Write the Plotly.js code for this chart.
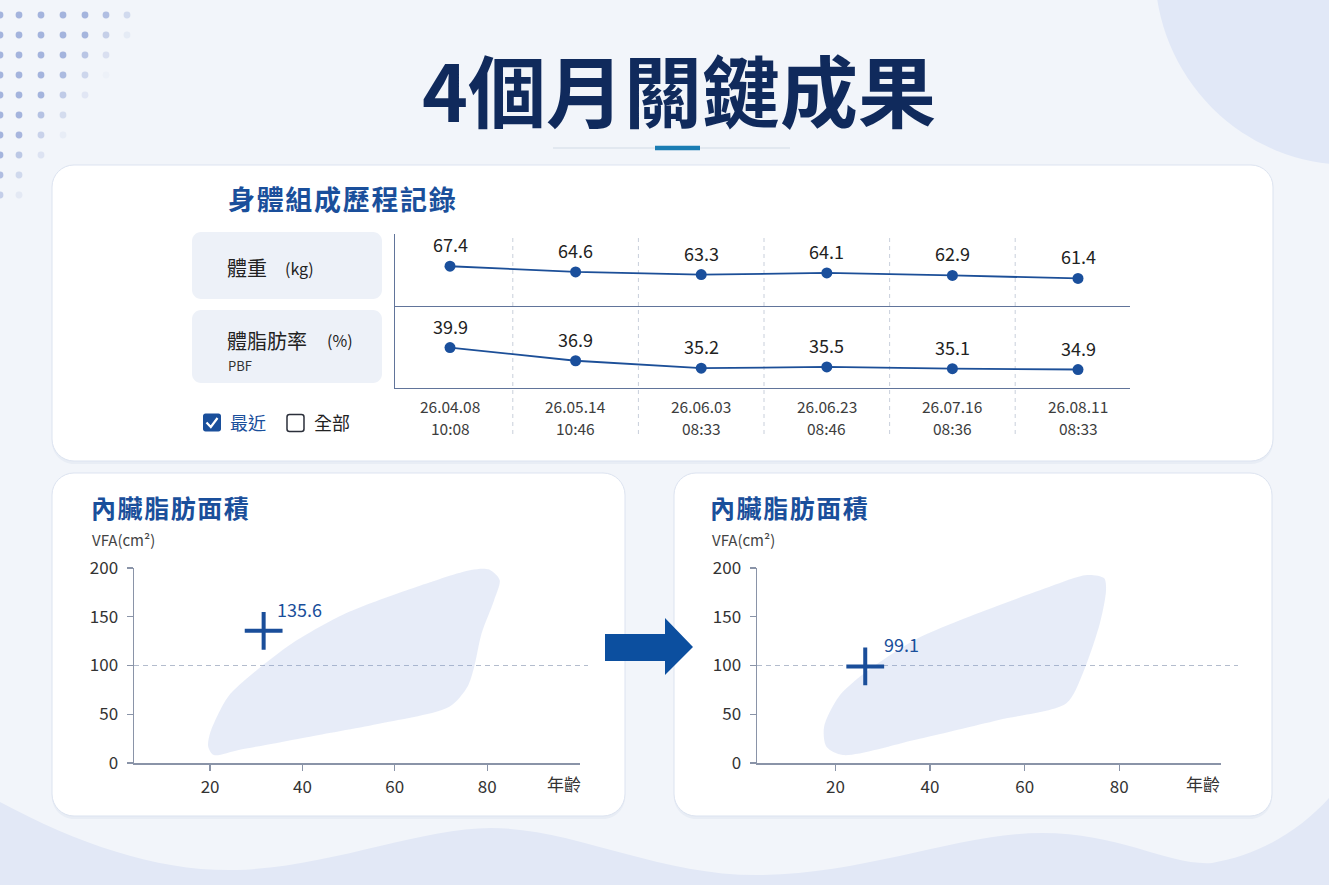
<!DOCTYPE html>
<html>
<head>
<meta charset="utf-8">
<script src="https://cdn.plot.ly/plotly-3.0.1.min.js"></script>
<style>
  html, body { margin: 0; padding: 0; background: #f2f5fa; }
  #chart { width: 1329px; height: 885px; }
</style>
</head>
<body>
<div id="chart"></div>
<script>
// ---------------- DATA ----------------
const sessionDates = ['26.04.08', '26.05.14', '26.06.03', '26.06.23', '26.07.16', '26.08.11'];
const sessionTimes = ['10:08', '10:46', '08:33', '08:46', '08:36', '08:33'];
const weightKg = [67.4, 64.6, 63.3, 64.1, 62.9, 61.4];
const pbfPct = [39.9, 36.9, 35.2, 35.5, 35.1, 34.9];

const vfaAgeTicks = [20, 40, 60, 80];
const vfaTicks = [0, 50, 100, 150, 200];
const vfaCutoff = [100];

const vfaBeforeAge = [31.6];
const vfaBeforeValue = [135.6];
const vfaAfterAge = [26.3];
const vfaAfterValue = [99.1];

// reference (normal-range) region outlines
const normalAgeBefore = [19.6, 20.0, 23.9, 29.3, 37.8, 49.4, 64.8, 76.5, 80.3, 82.7, 81.5, 78.8, 77.2, 75.7, 71.8, 57.1, 41.6, 26.2, 20.8, 19.6];
const normalVfaBefore = [16.7, 30.5, 68.0, 92.0, 122.8, 153.5, 180.8, 198.0, 198.6, 187.7, 167.0, 133.0, 98.8, 78.0, 57.7, 40.7, 27.0, 13.3, 8.2, 16.7];
const normalAgeAfter = [18.1, 17.6, 20.7, 26.1, 36.7, 50.1, 63.4, 73.2, 76.8, 77.2, 75.9, 72.3, 68.8, 54.5, 36.7, 21.6, 18.1];
const normalVfaAfter = [16.7, 37.2, 68.0, 92.0, 126.0, 153.5, 177.4, 192.8, 189.4, 177.4, 143.3, 92.0, 61.2, 44.1, 23.6, 8.2, 16.7];

// ---------------- HELPERS ----------------
const W = 1329, H = 885;
const X = v => v / W;
const Y = v => 1 - v / H;
const P = (x, y) => X(x).toFixed(5) + ',' + Y(y).toFixed(5);
const spaced = s => Array.from(s).join('\u200A');

function rrPath(x0, y0, x1, y1, r) {
  const k = 0.5523 * r;
  return 'M' + P(x0 + r, y0) + ' L' + P(x1 - r, y0) +
    ' C' + P(x1 - r + k, y0) + ' ' + P(x1, y0 + r - k) + ' ' + P(x1, y0 + r) +
    ' L' + P(x1, y1 - r) +
    ' C' + P(x1, y1 - r + k) + ' ' + P(x1 - r + k, y1) + ' ' + P(x1 - r, y1) +
    ' L' + P(x0 + r, y1) +
    ' C' + P(x0 + r - k, y1) + ' ' + P(x0, y1 - r + k) + ' ' + P(x0, y1 - r) +
    ' L' + P(x0, y0 + r) +
    ' C' + P(x0, y0 + r - k) + ' ' + P(x0 + r - k, y0) + ' ' + P(x0 + r, y0) + ' Z';
}
function pathShape(path, fill, lineColor, lineWidth, layer) {
  return { type: 'path', xref: 'paper', yref: 'paper', path: path, fillcolor: fill,
    line: { color: lineColor || 'rgba(0,0,0,0)', width: lineWidth || 0 }, layer: layer || 'below' };
}
function lineShape(x0, y0, x1, y1, color, width, dash, layer) {
  return { type: 'line', xref: 'paper', yref: 'paper', x0: X(x0), y0: Y(y0), x1: X(x1), y1: Y(y1),
    line: { color: color, width: width, dash: dash || 'solid' }, layer: layer || 'below' };
}

const FONT = '"Noto Sans CJK TC", "Noto Sans", sans-serif';
const NAVY = '#102a5c';
const BLUE = '#1a4f9b';
const LINEBLUE = '#1c4f98';

// ---------------- SHAPES ----------------
const shapes = [];

// bottom wave
const wave = 'M' + P(0, 802) +
  ' C' + P(80, 845) + ' ' + P(160, 872) + ' ' + P(237, 870) +
  ' C' + P(330, 867) + ' ' + P(420, 828) + ' ' + P(491, 828) +
  ' C' + P(575, 828) + ' ' + P(660, 877) + ' ' + P(763, 875) +
  ' C' + P(870, 873) + ' ' + P(960, 833) + ' ' + P(1042, 833) +
  ' C' + P(1120, 833) + ' ' + P(1170, 866) + ' ' + P(1212, 863) +
  ' C' + P(1260, 855) + ' ' + P(1300, 830) + ' ' + P(1329, 798) +
  ' L' + P(1329, 885) + ' L' + P(0, 885) + ' Z';
shapes.push(pathShape(wave, '#e2e8f6'));

// top-right circle
shapes.push({ type: 'circle', xref: 'paper', yref: 'paper',
  x0: X(1350 - 195), x1: X(1350 + 195), y0: Y(-30 + 195), y1: Y(-30 - 195),
  fillcolor: '#e1e8f7', line: { width: 0 }, layer: 'below' });

// top-left dot grid (decoration)
const dotCols = [0, 19, 41, 63, 85, 106, 127];
const dotRows = [15, 35, 55, 75, 95, 115, 135, 155, 175, 195];
dotRows.forEach((yy, r) => {
  dotCols.forEach((xx, c) => {
    const o = Math.max(0, Math.min(1, (7.0 - c - 0.62 * r) / 2.4));
    if (o > 0.05) {
      shapes.push({ type: 'circle', xref: 'paper', yref: 'paper',
        x0: X(xx - 3.4), x1: X(xx + 3.4), y0: Y(yy + 3.4), y1: Y(yy - 3.4),
        fillcolor: 'rgba(150,168,215,' + (0.85 * o).toFixed(2) + ')', line: { width: 0 }, layer: 'below' });
    }
  });
});

// cards (soft shadow + white card)
[[52, 165, 1273, 461], [52, 473, 625, 816], [674, 473, 1272, 816]].forEach(c => {
  shapes.push(pathShape(rrPath(c[0], c[1] + 2, c[2], c[3] + 3, 22), 'rgba(60,90,160,0.05)'));
  shapes.push(pathShape(rrPath(c[0], c[1], c[2], c[3], 22), '#ffffff', '#dce3f0', 1));
});

// label boxes
shapes.push(pathShape(rrPath(192, 232, 382, 299, 9), '#edf1f8'));
shapes.push(pathShape(rrPath(192, 310, 382, 383, 9), '#edf1f8'));

// checkboxes
shapes.push(pathShape(rrPath(203, 413.5, 221, 431.5, 2.5), BLUE));
shapes.push({ type: 'path', xref: 'paper', yref: 'paper',
  path: 'M' + P(206.5, 422.5) + ' L' + P(210.8, 427) + ' L' + P(217.5, 418),
  line: { color: '#ffffff', width: 2.2 }, layer: 'below' });
shapes.push(pathShape(rrPath(287, 414.5, 304, 431.5, 2.5), 'rgba(0,0,0,0)', '#2b2f3a', 1.5));

// title underline
shapes.push(lineShape(553, 148, 790, 148, '#dde3ec', 1.5));
shapes.push(lineShape(655, 148, 700, 148, '#1b7db3', 4.5));

// dashed session separators (top chart)
for (let i = 0; i < sessionDates.length - 1; i++) {
  shapes.push({ type: 'line', xref: 'x', yref: 'paper', x0: i + 0.5, x1: i + 0.5, y0: Y(434), y1: Y(234),
    line: { color: '#c8cfdb', width: 1, dash: '4px,4px' }, layer: 'below' });
}

// arrow between VFA panels
shapes.push(pathShape('M' + P(605, 634) + ' L' + P(665, 634) + ' L' + P(665, 618) + ' L' + P(693, 647) +
  ' L' + P(665, 675) + ' L' + P(665, 661) + ' L' + P(605, 661) + ' Z', '#0c4f9f'));

// VFA 100 cutoff dashed lines (below the translucent region and the cross)
shapes.push({ type: 'line', xref: 'paper', yref: 'y3', x0: X(134), x1: X(588), y0: vfaCutoff[0], y1: vfaCutoff[0],
  line: { color: '#b3bccd', width: 1.2, dash: '5px,4px' }, layer: 'below' });
shapes.push({ type: 'line', xref: 'paper', yref: 'y4', x0: X(757), x1: X(1238), y0: vfaCutoff[0], y1: vfaCutoff[0],
  line: { color: '#b3bccd', width: 1.2, dash: '5px,4px' }, layer: 'below' });

// ---------------- ANNOTATIONS ----------------
function txt(x, y, text, size, color, opts) {
  return Object.assign({ xref: 'paper', yref: 'paper', x: X(x), y: Y(y), text: text, showarrow: false,
    xanchor: 'left', yanchor: 'middle', font: { family: FONT, size: size, color: color } }, opts || {});
}
const annotations = [
  txt(679, 88, '4個月關鍵成果', 78, NAVY, { xanchor: 'center', font: { family: FONT, size: 78, color: NAVY, weight: 700 } }),
  txt(226, 198, spaced('身體組成歷程記錄'), 27, BLUE, { font: { family: FONT, size: 27, color: BLUE, weight: 700 } }),
  txt(225, 268, '體重', 20, '#222222'),
  txt(283, 268, '(kg)', 16, '#222222'),
  txt(225, 340, '體脂肪率', 20, '#222222'),
  txt(325, 340, '(%)', 16, '#222222'),
  txt(226, 365, 'PBF', 13, '#333333'),
  txt(228, 422, '最近', 18, BLUE),
  txt(312, 422, '全部', 18, '#222222'),
  txt(89, 507, spaced('內臟脂肪面積'), 25, BLUE, { font: { family: FONT, size: 25, color: BLUE, weight: 700 } }),
  txt(708, 507, spaced('內臟脂肪面積'), 25, BLUE, { font: { family: FONT, size: 25, color: BLUE, weight: 700 } }),
  txt(90, 539, 'VFA(cm²)', 15, '#444444'),
  txt(710, 539, 'VFA(cm²)', 15, '#444444'),
  txt(564, 783, '年齡', 17, '#333333', { xanchor: 'center' }),
  txt(1203, 783, '年齡', 17, '#333333', { xanchor: 'center' })
];
// session date/time labels under the top chart (positioned by the category axis)
sessionDates.forEach((d, i) => {
  annotations.push({ xref: 'x2', yref: 'paper', x: i, y: Y(406), text: d, showarrow: false,
    xanchor: 'center', yanchor: 'middle', font: { family: FONT, size: 15.5, color: '#3d3d3d' } });
  annotations.push({ xref: 'x2', yref: 'paper', x: i, y: Y(428), text: sessionTimes[i], showarrow: false,
    xanchor: 'center', yanchor: 'middle', font: { family: FONT, size: 15.5, color: '#3d3d3d' } });
});
weightKg.forEach((v, i) => annotations.push({ xref: 'x', yref: 'y', x: i, y: v, text: v.toFixed(1), showarrow: false,
  yshift: 22, xanchor: 'center', yanchor: 'middle', font: { family: FONT, size: 18, color: '#222222' } }));
pbfPct.forEach((v, i) => annotations.push({ xref: 'x2', yref: 'y2', x: i, y: v, text: v.toFixed(1), showarrow: false,
  yshift: 22, xanchor: 'center', yanchor: 'middle', font: { family: FONT, size: 18, color: '#222222' } }));
annotations.push({ xref: 'x3', yref: 'y3', x: vfaBeforeAge[0], y: vfaBeforeValue[0], text: vfaBeforeValue[0].toFixed(1),
  showarrow: false, xanchor: 'left', yanchor: 'middle', xshift: 11, yshift: 22, font: { family: FONT, size: 18, color: BLUE } });
annotations.push({ xref: 'x4', yref: 'y4', x: vfaAfterAge[0], y: vfaAfterValue[0], text: vfaAfterValue[0].toFixed(1),
  showarrow: false, xanchor: 'left', yanchor: 'middle', xshift: 17, yshift: 22, font: { family: FONT, size: 18, color: BLUE } });

// ---------------- TRACES ----------------
const traces = [
  { type: 'scatter', mode: 'lines+markers', x: sessionDates, y: weightKg, xaxis: 'x', yaxis: 'y',
    line: { color: LINEBLUE, width: 1.8 }, marker: { size: 11, color: '#1a4f9c' }, cliponaxis: false, hoverinfo: 'skip' },
  { type: 'scatter', mode: 'lines+markers', x: sessionDates, y: pbfPct, xaxis: 'x2', yaxis: 'y2',
    line: { color: LINEBLUE, width: 1.8 }, marker: { size: 11, color: '#1a4f9c' }, cliponaxis: false, hoverinfo: 'skip' },
  { type: 'scatter', mode: 'lines', x: normalAgeBefore, y: normalVfaBefore, xaxis: 'x3', yaxis: 'y3',
    fill: 'toself', fillcolor: 'rgba(120,150,215,0.18)', line: { width: 0, shape: 'spline', smoothing: 0.8, color: 'rgba(0,0,0,0)' }, hoverinfo: 'skip' },
  { type: 'scatter', mode: 'lines', x: normalAgeAfter, y: normalVfaAfter, xaxis: 'x4', yaxis: 'y4',
    fill: 'toself', fillcolor: 'rgba(120,150,215,0.18)', line: { width: 0, shape: 'spline', smoothing: 0.8, color: 'rgba(0,0,0,0)' }, hoverinfo: 'skip' },
  { type: 'scatter', mode: 'markers', x: vfaBeforeAge, y: vfaBeforeValue, xaxis: 'x3', yaxis: 'y3',
    marker: { symbol: 'cross-thin', size: 27, line: { width: 4, color: '#1a4e9a' } }, cliponaxis: false, hoverinfo: 'skip' },
  { type: 'scatter', mode: 'markers', x: vfaAfterAge, y: vfaAfterValue, xaxis: 'x4', yaxis: 'y4',
    marker: { symbol: 'cross-thin', size: 27, line: { width: 4, color: '#1a4e9a' } }, cliponaxis: false, hoverinfo: 'skip' }
];

// ---------------- LAYOUT ----------------
const frameColor = '#61749a';
const vfaAxisColor = '#8a94a8';
const baseHidden = { showgrid: false, zeroline: false, fixedrange: true };

function vfaX(domain, range, anchor) {
  return Object.assign({}, baseHidden, { domain: domain, range: range, anchor: anchor, tickvals: vfaAgeTicks,
    ticks: 'outside', ticklen: 6, tickwidth: 1.2, tickcolor: vfaAxisColor, showline: true, linecolor: vfaAxisColor,
    linewidth: 1.5, tickfont: { family: FONT, size: 17, color: '#333333' }, ticklabelstandoff: 2 });
}
function vfaY(domain, anchor) {
  return Object.assign({}, baseHidden, { domain: domain, range: [0, 200], anchor: anchor, tickvals: vfaTicks,
    ticks: 'outside', ticklen: 6, tickwidth: 1.2, tickcolor: vfaAxisColor, showline: true, linecolor: vfaAxisColor,
    linewidth: 1.5, tickfont: { family: FONT, size: 17, color: '#333333' }, ticklabelstandoff: 5 });
}

const layout = {
  width: W, height: H,
  margin: { l: 0, r: 0, t: 0, b: 0 },
  paper_bgcolor: '#f2f5fa',
  plot_bgcolor: 'rgba(0,0,0,0)',
  showlegend: false,
  font: { family: FONT },
  xaxis: Object.assign({}, baseHidden, { domain: [X(395), X(1130)], range: [-0.438, 5.414], anchor: 'y',
    type: 'category', categoryorder: 'array', categoryarray: sessionDates, showticklabels: false, ticks: '',
    showline: true, linecolor: frameColor, linewidth: 1.3 }),
  yaxis: Object.assign({}, baseHidden, { domain: [Y(306), Y(234)], range: [47.9, 83.2], anchor: 'x',
    showticklabels: false, ticks: '', showline: true, linecolor: frameColor, linewidth: 1.3 }),
  xaxis2: Object.assign({}, baseHidden, { domain: [X(395), X(1130)], range: [-0.438, 5.414], anchor: 'y2',
    type: 'category', categoryorder: 'array', categoryarray: sessionDates, showticklabels: false, ticks: '',
    showline: true, linecolor: frameColor, linewidth: 1.3 }),
  yaxis2: Object.assign({}, baseHidden, { domain: [Y(388), Y(306)], range: [30.69, 49.37], anchor: 'x2',
    showticklabels: false, ticks: '', showline: true, linecolor: frameColor, linewidth: 1.3 }),
  xaxis3: vfaX([X(134), X(580)], [3.53, 100.1], 'y3'),
  yaxis3: vfaY([Y(763), Y(568)], 'x3'),
  xaxis4: vfaX([X(757), X(1221)], [3.42, 101.5], 'y4'),
  yaxis4: vfaY([Y(763), Y(568)], 'x4'),
  shapes: shapes,
  annotations: annotations
};

Plotly.newPlot('chart', traces, layout, { displayModeBar: false, staticPlot: true });
</script>
</body>
</html>
